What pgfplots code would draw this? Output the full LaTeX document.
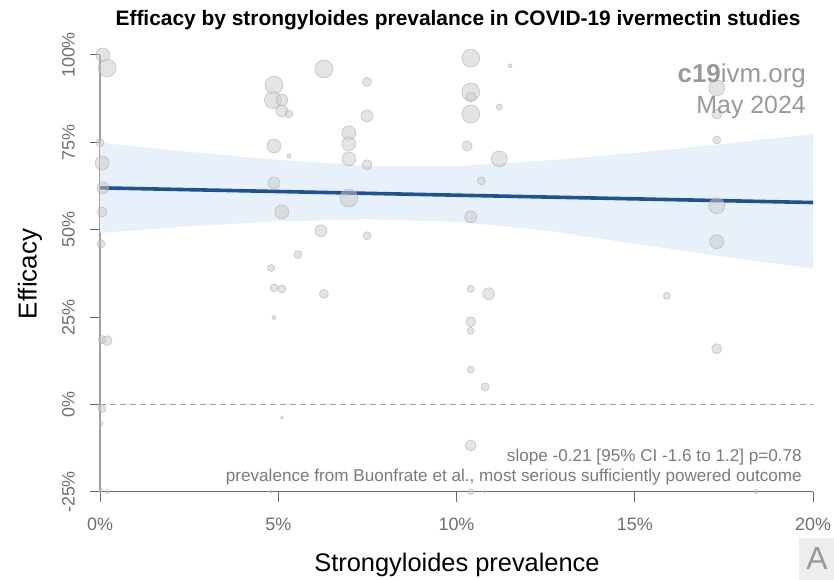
\documentclass[border=0pt]{standalone}
\usepackage{fontspec}
\setmainfont{Liberation Sans}
\usepackage{pgfplots}
\usepackage{pgfplotstable}
\pgfplotsset{compat=1.18}
\usepgfplotslibrary{fillbetween}

\definecolor{bandblue}{HTML}{E8F0FA}
\definecolor{lineblue}{HTML}{1F5293}
\definecolor{tickgray}{HTML}{6E6E6E}
\definecolor{ylinegray}{HTML}{A0A0A0}
\definecolor{xlinegray}{HTML}{6A6A6A}
\definecolor{notegray}{HTML}{7A7A7A}
\definecolor{markgray}{HTML}{CACACA}
\definecolor{markedge}{HTML}{A8A8A8}

% studies: prevalence (%), efficacy (%), bubble radius (bp)
\pgfplotstableread{
x     y      r
0.08  100    7
0.2   96.3   9
0.0   74.9   4
0.06  69.1   7
0.08  62.0   6
0.06  55.1   5
0.03  46.0   4
0.06  18.6   4
0.2   18.3   5
0.06  -1.1   4
0.03  -5.4   2
0.03  -24.6  2
0.2   -24.9  2
4.88  91.4   9
4.85  87.1   8.5
5.1   87.1   6
5.1   84.0   6
5.3   83.1   4
4.88  74.0   7
5.3   71.1   2
4.88  63.4   6
5.1   55.1   7
5.55  42.9   4
4.8   39.1   3.5
4.88  33.4   4
5.1   33.1   4
4.88  24.9   2
5.1   -3.7   1.5
4.8   -24.9  1.5
6.28  96.0   9
6.2   49.7   6
6.28  31.7   4.5
6.98  77.7   7
6.98  74.6   7
6.98  70.3   7
6.98  59.1   9
7.49  92.3   4.5
7.49  82.6   6
7.49  68.6   5
7.49  48.3   4
10.4  99.1   9
10.4  89.4   9
10.4  88.0   5
10.4  83.1   9
10.3  74.0   5
10.4  53.7   6
10.4  33.1   3.5
10.4  23.7   5
10.4  21.1   3.5
10.4  10.0   3.5
10.4  -11.7  5.5
10.4  -24.9  3
10.7  64.0   4
10.8  5.1    4
10.8  -24.9  1.5
10.9  31.7   6
11.2  85.1   3
11.2  70.3   8
11.5  96.9   2
15.9  31.1   3.5
17.3  90.6   8
17.3  83.1   5
17.3  75.7   4
17.3  56.9   8
17.3  46.6   7
17.3  16.0   5
18.4  -24.9  2
}\studies

% 95% confidence band of the fit
\pgfplotstableread{
x     lo    hi
0     49.1  74.9
2.5   51.0  72.3
5     52.4  70.0
7.5   53.0  68.3
10    52.3  68.2
12.5  49.8  69.8
15    46.0  72.0
17.5  42.3  74.6
20    38.9  77.4
}\band

\begin{document}
\begin{tikzpicture}
\path (0bp,0bp) rectangle (834bp,580bp);
\begin{axis}[
  at={(100bp,88bp)}, anchor=south west,
  scale only axis, width=713bp, height=437bp,
  xmin=0, xmax=20, ymin=-25, ymax=100,
  axis lines=left, axis line style={-},
  x axis line style={xlinegray, line width=1bp},
  y axis line style={ylinegray, line width=1.3bp},
  tick align=outside, major tick length=10bp,
  xtick style={xlinegray, line width=1bp},
  ytick style={xlinegray, line width=1bp},
  xtick={0,5,10,15,20},
  xticklabels={0\%,5\%,10\%,15\%,20\%},
  ytick={-25,0,25,50,75,100},
  yticklabels={-25\%,0\%,25\%,50\%,75\%,100\%},
  tick label style={font=\fontsize{18}{20}\selectfont, color=tickgray, inner sep=0pt},
  xticklabel style={anchor=north},
  xticklabel shift=16bp,
  yticklabel style={rotate=90, anchor=south},
  yticklabel shift=15bp,
]
\addplot[name path=hi, draw=none] table[x=x, y=hi] {\band};
\addplot[name path=lo, draw=none] table[x=x, y=lo] {\band};
\addplot[bandblue] fill between[of=hi and lo];
\addplot[ylinegray, line width=1bp, dash pattern=on 6bp off 4bp] coordinates {(0,0) (20,0)};
\addplot[lineblue, line width=3.6bp] coordinates {(0,62) (20,57.8)};
\addplot[scatter, only marks, mark=*,
  scatter/use mapped color={draw=markedge, fill=markgray},
  mark options={fill opacity=0.5, draw opacity=0.55, line width=0.7bp},
  visualization depends on={\thisrow{r} \as \rad},
  scatter/@pre marker code/.append style={/tikz/mark size=\rad}]
  table[x=x, y=y] {\studies};
\end{axis}

\node[anchor=base, font=\bfseries\fontsize{21}{24}\selectfont] at (458bp,554bp)
  {Efficacy by strongyloides prevalance in COVID-19 ivermectin studies};
\node[rotate=90, font=\fontsize{26}{30}\selectfont] at (30bp,306bp) {Efficacy};
\node[anchor=base, font=\fontsize{25.5}{30}\selectfont] at (457bp,9bp) {Strongyloides prevalence};
\node[anchor=base east, inner sep=0pt, text=black!40, font=\fontsize{26}{30}\selectfont] at (806bp,497bp)
  {\textbf{c19}ivm.org};
\node[anchor=base east, inner sep=0pt, text=black!40, font=\fontsize{25}{30}\selectfont] at (806bp,466bp)
  {May 2024};
\node[anchor=base east, inner sep=0pt, text=notegray, font=\fontsize{17.2}{20}\selectfont] at (802bp,118bp)
  {slope -0.21 [95\% CI -1.6 to 1.2] p=0.78};
\node[anchor=base east, inner sep=0pt, text=notegray, font=\fontsize{17.2}{20}\selectfont] at (802bp,98bp)
  {prevalence from Buonfrate et al., most serious sufficiently powered outcome};
\fill[black!7] (799bp,0bp) rectangle (834bp,42bp);
\node[text=black!40, font=\fontsize{32}{36}\selectfont] at (817bp,21bp) {A};
\end{tikzpicture}
\end{document}
